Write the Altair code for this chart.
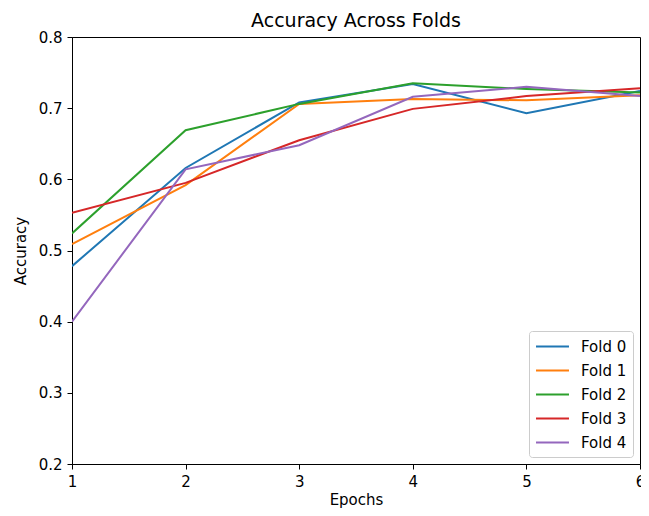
import altair as alt
import pandas as pd

epochs = [1, 2, 3, 4, 5, 6]
folds = ["Fold 0", "Fold 1", "Fold 2", "Fold 3", "Fold 4"]
fold0 = [0.478, 0.616, 0.708, 0.734, 0.693, 0.724]
fold1 = [0.509, 0.592, 0.706, 0.713, 0.711, 0.718]
fold2 = [0.524, 0.669, 0.706, 0.735, 0.727, 0.722]
fold3 = [0.553, 0.595, 0.655, 0.699, 0.717, 0.728]
fold4 = [0.400, 0.614, 0.648, 0.716, 0.730, 0.717]
colors = ["#1f77b4", "#ff7f0e", "#2ca02c", "#d62728", "#9467bd"]

rows = []
for name, vals in zip(folds, [fold0, fold1, fold2, fold3, fold4]):
    for e, v in zip(epochs, vals):
        rows.append({"Epoch": e, "Accuracy": v, "Fold": name})
df = pd.DataFrame(rows)

FONT = "DejaVu Sans"

chart = alt.Chart(df).mark_line(strokeWidth=2, clip=True).encode(
    x=alt.X("Epoch:Q", scale=alt.Scale(domain=[1, 6], nice=False, zero=False),
            axis=alt.Axis(title="Epochs", values=epochs, format="d", grid=False,
                          tickSize=5, labelPadding=5, titlePadding=3,
                          labelFontSize=15, titleFontSize=15, labelColor="#000",
                          titleColor="#000", labelFont=FONT, titleFont=FONT,
                          titleFontWeight="normal", domainColor="#000", tickColor="#000",
                          labelFlush=False)),
    y=alt.Y("Accuracy:Q", scale=alt.Scale(domain=[0.2, 0.8], nice=False, zero=False),
            axis=alt.Axis(title="Accuracy", values=[0.2, 0.3, 0.4, 0.5, 0.6, 0.7, 0.8],
                          format=".1f", grid=False, tickSize=5, labelPadding=5,
                          titlePadding=10, labelFontSize=15, titleFontSize=15,
                          labelColor="#000", titleColor="#000", labelFont=FONT,
                          titleFont=FONT, titleFontWeight="normal",
                          domainColor="#000", tickColor="#000", labelFlush=False)),
    color=alt.Color("Fold:N", scale=alt.Scale(domain=folds, range=colors),
                    legend=alt.Legend(title=None, orient="bottom-right", offset=7,
                                      symbolType="M-2,0L2,0", symbolSize=272,
                                      symbolStrokeWidth=2, symbolOffset=8,
                                      labelFontSize=15,
                                      labelFont=FONT, labelColor="#000",
                                      rowPadding=6, padding=6, fillColor="white",
                                      strokeColor="#cccccc", cornerRadius=3,
                                      labelOffset=19)),
).properties(
    width=568, height=427,
    title=alt.TitleParams("Accuracy Across Folds", font=FONT, fontSize=19,
                          fontWeight="normal", color="#000", offset=-1),
    autosize=alt.AutoSizeParams(type="none"),
    padding={"left": 64, "top": 29, "right": 1, "bottom": 44},
).configure_view(stroke="#000", strokeWidth=1)

chart.save("out.html", embed_options={"renderer": "svg", "actions": False})
